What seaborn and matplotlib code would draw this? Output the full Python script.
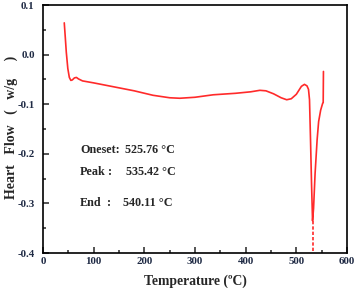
import matplotlib
matplotlib.use("Agg")
import matplotlib.pyplot as plt
import numpy as np
import pandas as pd
import seaborn as sns
from matplotlib.ticker import MultipleLocator, FormatStrFormatter

# DSC curve
temperature = [42, 44, 46, 49, 52, 55, 58, 62, 66, 70, 78, 100, 145, 180, 217, 250,
               270, 300, 336, 380, 410, 428, 440, 455, 470, 481, 490, 500, 510, 516,
               521, 524, 526, 528, 530, 532, 534, 537, 541, 544, 548, 552, 553, 553.5]
heat_flow = [0.064, 0.035, 0.005, -0.028, -0.046, -0.052, -0.051, -0.047, -0.046, -0.049,
             -0.053, -0.057, -0.066, -0.073, -0.082, -0.087, -0.088, -0.086, -0.081,
             -0.078, -0.075, -0.072, -0.073, -0.079, -0.087, -0.091, -0.089, -0.080,
             -0.064, -0.060, -0.063, -0.070, -0.091, -0.172, -0.26, -0.335, -0.31,
             -0.24, -0.172, -0.135, -0.112, -0.098, -0.097, -0.034]

peak_x = [532, 532]
peak_y = [-0.335, -0.4]

labels = ["Oneset:", "Peak", "End"]
colons = ["", ":", ":"]
values = ["525.76 \u00b0C", "535.42 \u00b0C", "540.11 \u00b0C"]

sns.set_style("ticks")
plt.rcParams['font.family'] = ['Liberation Serif', 'Noto Sans CJK SC']
plt.rcParams['font.weight'] = 'bold'

df = pd.DataFrame({'T': temperature, 'HF': heat_flow})

fig = plt.figure(figsize=(3.57, 2.88), dpi=100)
ax = fig.add_axes([0.1204, 0.1215, 0.8516, 0.8611])

sns.lineplot(data=df, x='T', y='HF', sort=False, estimator=None, color='#ff2a2a',
             linewidth=1.2, ax=ax)
ax.plot(peak_x, peak_y, color='#ff2a2a', linewidth=1.2, linestyle=(0, (2, 1.2)))

ax.set_xlim(0, 600)
ax.set_ylim(-0.4, 0.1)
ax.xaxis.set_major_locator(MultipleLocator(100))
ax.xaxis.set_minor_locator(MultipleLocator(50))
ax.yaxis.set_major_locator(MultipleLocator(0.1))
ax.yaxis.set_minor_locator(MultipleLocator(0.05))
ax.yaxis.set_major_formatter(FormatStrFormatter('%.1f'))

ax.tick_params(which='both', direction='in', width=1.1, labelsize=7.8, labelcolor='#1f2a44',
               top=False, right=False)
ax.tick_params(axis='x', pad=3)
ax.tick_params(axis='y', pad=6)
ax.tick_params(which='major', length=4)
ax.tick_params(which='minor', length=2.5)
for s in ax.spines.values():
    s.set_linewidth(1.2)
    s.set_color('black')

ax.set_xlabel('Temperature (\u00baC)', fontsize=9.8, fontweight='bold', labelpad=6)
ax.set_ylabel('Heart   Flow   (   w/g     )', fontsize=10, fontweight='bold')
ax.yaxis.set_label_coords(-0.083, 0.505)

ys = [-0.192, -0.236, -0.2986]
colon_x = [0, 128, 126]
value_x = [162, 164, 157]
for i in range(3):
    ax.text(73, ys[i], labels[i], fontsize=8.7, fontweight='bold', va='center')
    ax.text(colon_x[i], ys[i], colons[i], fontsize=8.7, fontweight='bold', va='center')
    ax.text(value_x[i], ys[i], values[i], fontsize=8.7, fontweight='bold', va='center')

fig.savefig('out.png', dpi=100)
